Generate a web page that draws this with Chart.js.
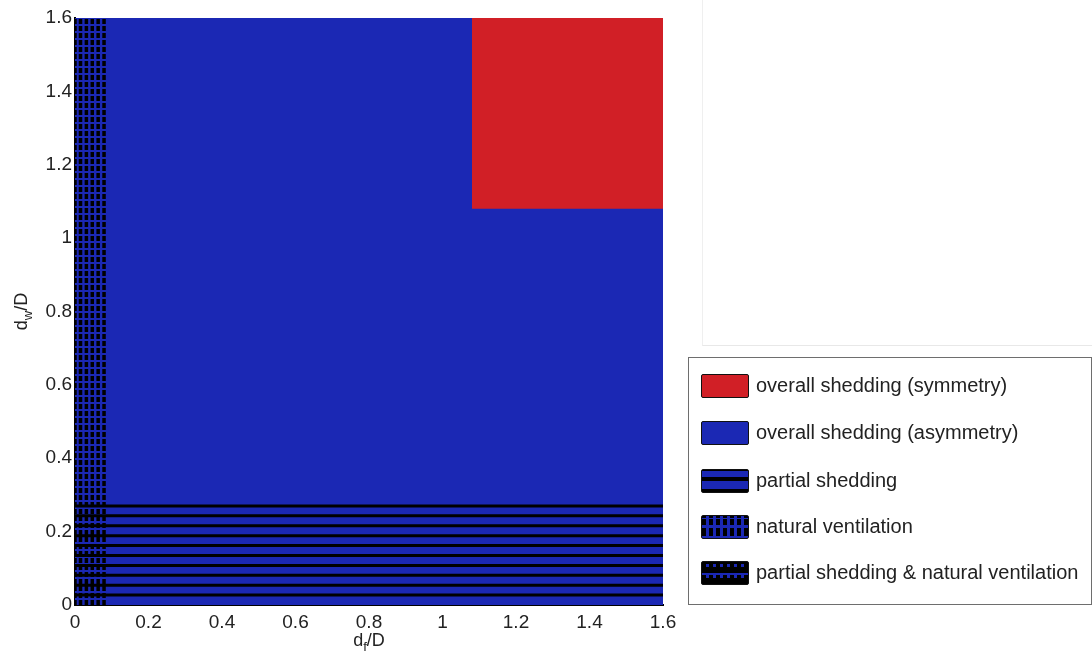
<!DOCTYPE html>
<html>
<head>
<meta charset="utf-8">
<script src="https://cdn.jsdelivr.net/npm/chart.js@4.4.1/dist/chart.umd.min.js"></script>
<style>
  body { margin: 0; background: #fff; font-family: "Liberation Sans", Arial, sans-serif; }
  #wrap { position: absolute; left: 0; top: 0; width: 690px; height: 657px; }
  #ghost { position: absolute; left: 702px; top: 0; width: 390px; height: 345px;
           border-left: 1px solid #efefef; border-bottom: 1px solid #e8e8e8; }
  #legend { position: absolute; left: 688px; top: 357px; width: 402px; height: 246px;
            border: 1.5px solid #6e6e6e; }
  .item { position: absolute; left: 12px; height: 25px; display: flex; align-items: center; }
  .sw { width: 48px; height: 24px; border: 1.5px solid #111; border-radius: 2px; box-sizing: border-box; margin-right: 7px; }
  .lbl { font-size: 20px; color: #222; white-space: nowrap; }
</style>
</head>
<body>
<div id="wrap"><canvas id="chartMapa"></canvas></div>
<div id="ghost"></div>
<div id="legend"></div>
<script>
// ejes
const tickValues = [0, 0.2, 0.4, 0.6, 0.8, 1, 1.2, 1.4, 1.6];
const axisMax = 1.6;

// zonas del mapa (df/D , dw/D)
const symmetryX = [1.08, 1.6];
const symmetryYFrom = 1.08;
const partialY = [0.027, 0.054, 0.081, 0.108, 0.135, 0.162, 0.189, 0.216, 0.243, 0.27];
const ventX = [0, 0.015, 0.031, 0.047, 0.063, 0.079];

// leyenda
const legendLabels = [
  "overall shedding (symmetry)",
  "overall shedding (asymmetry)",
  "partial shedding",
  "natural ventilation",
  "partial shedding & natural ventilation"
];

const BLUE = "#1b28b4";
const RED = "#d11f26";

let datasets = [];

datasets.push({
  label: "asymmetry",
  data: [{ x: 0, y: axisMax }, { x: axisMax, y: axisMax }],
  backgroundColor: BLUE,
  borderWidth: 0,
  fill: "origin",
  order: 10
});

datasets.push({
  label: "symmetry",
  data: symmetryX.map((x) => ({ x: x, y: axisMax })),
  backgroundColor: RED,
  borderWidth: 0,
  fill: { value: symmetryYFrom },
  order: 9
});

partialY.forEach((y) => {
  datasets.push({
    label: "partial",
    data: [{ x: 0, y: y }, { x: axisMax, y: y }],
    borderColor: "#000",
    borderWidth: 3,
    fill: false,
    order: 5
  });
});

ventX.forEach((x) => {
  datasets.push({
    label: "vent",
    data: [{ x: x, y: 0 }, { x: x, y: axisMax }],
    borderColor: "#000",
    borderWidth: 3.5,
    borderDash: [5, 2],
    borderCapStyle: "butt",
    fill: false,
    order: 4
  });
});

// titulos de ejes con subindice
function drawSub(ctx, a, sub, b, cx, cy) {
  const big = "18px 'Liberation Sans', Arial, sans-serif";
  const small = "13px 'Liberation Sans', Arial, sans-serif";
  ctx.textBaseline = "alphabetic";
  ctx.textAlign = "left";
  ctx.font = big;
  const wa = ctx.measureText(a).width;
  const wb = ctx.measureText(b).width;
  ctx.font = small;
  const ws = ctx.measureText(sub).width;
  let x = cx - (wa + ws + wb) / 2;
  ctx.font = big;
  ctx.fillText(a, x, cy);
  x += wa;
  ctx.font = small;
  ctx.fillText(sub, x, cy + 5);
  x += ws;
  ctx.font = big;
  ctx.fillText(b, x, cy);
}

const axisTitles = {
  id: "axisTitles",
  afterDraw(chart) {
    const { ctx, chartArea } = chart;
    ctx.save();
    ctx.fillStyle = "#222";
    drawSub(ctx, "d", "f", "/D", (chartArea.left + chartArea.right) / 2, chartArea.bottom + 41);
    ctx.translate(27, (chartArea.top + chartArea.bottom) / 2);
    ctx.rotate(-Math.PI / 2);
    drawSub(ctx, "d", "w", "/D", 0, 0);
    ctx.restore();
  }
};

const tickFont = { family: "'Liberation Sans', Arial, sans-serif", size: 19 };

new Chart(document.getElementById("chartMapa").getContext("2d"), {
  type: "scatter",
  data: { datasets: datasets },
  options: {
    responsive: true,
    maintainAspectRatio: false,
    animation: false,
    showLine: true,
    elements: { point: { radius: 0, hoverRadius: 0 }, line: { tension: 0 } },
    layout: { padding: { top: 18, right: 27, left: 0, bottom: 0 } },
    plugins: { legend: { display: false }, tooltip: { enabled: false } },
    scales: {
      x: {
        type: "linear",
        min: 0,
        max: axisMax,
        z: 1,
        grid: { display: false, drawTicks: false },
        border: { display: true, color: "#000", width: 2 },
        afterBuildTicks: (scale) => { scale.ticks = tickValues.map((v) => ({ value: v })); },
        afterFit: (scale) => { scale.height = 52; },
        ticks: {
          padding: 6,
          color: "#222",
          font: tickFont,
          maxRotation: 0,
          autoSkip: false,
          callback: (v) => String(+v.toFixed(1))
        }
      },
      y: {
        type: "linear",
        min: 0,
        max: axisMax,
        z: 1,
        grid: { display: false, drawTicks: false },
        border: { display: true, color: "#000", width: 2 },
        afterBuildTicks: (scale) => { scale.ticks = tickValues.map((v) => ({ value: v })); },
        afterFit: (scale) => { scale.width = 75; },
        ticks: {
          padding: 3,
          color: "#222",
          font: tickFont,
          autoSkip: false,
          callback: (v) => String(+v.toFixed(1))
        }
      }
    }
  },
  plugins: [axisTitles]
});

// leyenda en html
const swatchStyles = [
  "background:" + RED,
  "background:" + BLUE,
  "background: linear-gradient(to bottom, #000 0 1px, " + BLUE + " 1px 7px, #000 7px 11px, " + BLUE + " 11px 19px, #000 19px)",
  "background: linear-gradient(to bottom, transparent 0 2px, " + BLUE + " 2px 3px, transparent 3px 9px, " + BLUE + " 9px 12px, transparent 12px 20px, " + BLUE + " 20px), repeating-linear-gradient(to right, #000 0 4px, " + BLUE + " 4px 7px)",
  "background: linear-gradient(to bottom, transparent 0 11px, " + BLUE + " 11px 13px, transparent 13px), repeating-linear-gradient(to right, transparent 0 4px, " + BLUE + " 4px 7px) 0 2px / 100% 3px no-repeat, repeating-linear-gradient(to right, transparent 0 4px, " + BLUE + " 4px 7px) 0 13px / 100% 3px no-repeat, #000"
];
const rowTops = [15, 62, 110, 156, 202];

let legendHtml = "";
legendLabels.forEach((txt, i) => {
  legendHtml += `<div class="item" style="top:${rowTops[i]}px">
    <div class="sw" style="${swatchStyles[i]}"></div><span class="lbl">${txt}</span></div>`;
});
document.getElementById("legend").innerHTML = legendHtml;
</script>
</body>
</html>
